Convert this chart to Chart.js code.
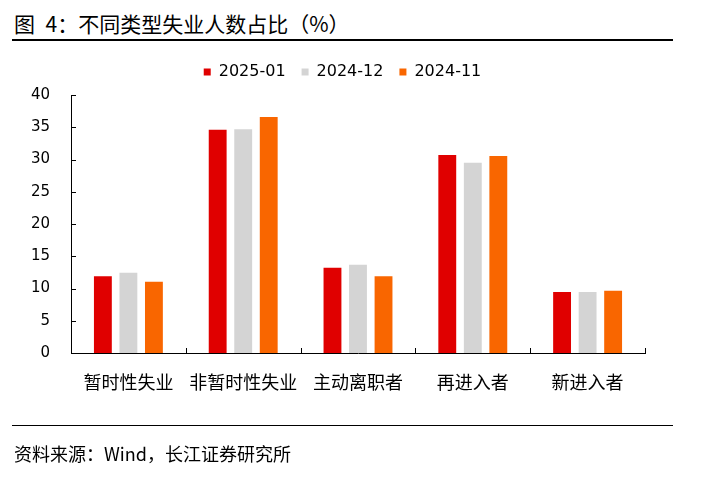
<!DOCTYPE html>
<html>
<head>
<meta charset="utf-8">
<script src="https://cdn.jsdelivr.net/npm/chart.js@4"></script>
<style>
  body { margin: 0; background: #fff; }
  #wrap { position: relative; width: 701px; height: 481px; overflow: hidden; }
  #title { position: absolute; left: 14px; top: 13px; font: 21px/1 "Noto Sans CJK SC", sans-serif; color: #000; white-space: nowrap; }
  #topline { position: absolute; left: 12px; top: 39px; width: 661px; height: 2px; background: #000; }
  #botline { position: absolute; left: 12px; top: 425px; width: 661px; height: 1px; background: #000; }
  #source { position: absolute; left: 14px; top: 444px; font: 18px/1 "Noto Sans CJK SC", sans-serif; color: #000; }
  #box { position: absolute; left: 0; top: 0; width: 701px; height: 481px; }
</style>
</head>
<body>
<div id="wrap">
  <div id="title">图&ensp;4：不同类型失业人数占比（%）</div>
  <div id="topline"></div>
  <div id="box"><canvas id="barChart"></canvas></div>
  <div id="botline"></div>
  <div id="source">资料来源：Wind，长江证券研究所</div>
</div>
<script>
const categories = ["暂时性失业", "非暂时性失业", "主动离职者", "再进入者", "新进入者"];
const jan2025 = [11.9, 34.6, 13.2, 30.7, 9.45];
const dec2024 = [12.45, 34.7, 13.7, 29.5, 9.45];
const nov2024 = [11.05, 36.6, 11.9, 30.55, 9.65];
const yTicks = [0, 5, 10, 15, 20, 25, 30, 35, 40];

// short tick marks pointing into the plot
const innerTicks = {
  id: "innerTicks",
  afterDatasetsDraw(chart) {
    const c = chart.ctx;
    const x = chart.scales.x;
    const y = chart.scales.y;
    c.save();
    c.strokeStyle = "#000";
    c.lineWidth = 1;
    c.beginPath();
    yTicks.forEach(v => {
      const py = Math.round(y.getPixelForValue(v)) + 0.5;
      c.moveTo(x.left, py);
      c.lineTo(x.left + 5, py);
    });
    const step = x.getPixelForTick(1) - x.getPixelForTick(0);
    for (let i = 1; i <= categories.length; i++) {
      const px = Math.round(x.getPixelForTick(0) - step / 2 + i * step) + 0.5;
      c.moveTo(px, y.bottom);
      c.lineTo(px, y.bottom - 5);
    }
    c.stroke();
    c.restore();
  }
};

const ctx = document.getElementById("barChart").getContext("2d");
const barChart = new Chart(ctx, {
  type: "bar",
  data: {
    labels: categories,
    datasets: [
      { label: "2025-01", data: jan2025, backgroundColor: "#E00000" },
      { label: "2024-12", data: dec2024, backgroundColor: "#D4D4D4" },
      { label: "2024-11", data: nov2024, backgroundColor: "#F96600" }
    ]
  },
  options: {
    responsive: true,
    maintainAspectRatio: false,
    animation: false,
    categoryPercentage: 0.667,
    barPercentage: 0.7,
    layout: { padding: { top: 48, right: 16, bottom: 78, left: 0 } },
    plugins: {
      legend: {
        labels: {
          font: { family: "DejaVu Sans", size: 16 },
          color: "#000",
          boxWidth: 7,
          boxHeight: 7,
          padding: 16
        }
      },
      // blank spacer between legend and plot
      title: {
        display: true,
        text: " ",
        weight: 500,
        font: { size: 5, lineHeight: 1 },
        padding: 0
      },
      tooltip: { enabled: false }
    },
    scales: {
      x: {
        grid: { display: false, drawTicks: false },
        border: { color: "#000", width: 1 },
        ticks: {
          padding: 18,
          color: "#000",
          font: { family: "Noto Sans CJK SC", size: 18 }
        },
        afterFit(scale) { scale.height = 50; }
      },
      y: {
        min: 0,
        max: 40,
        grid: { display: false, drawTicks: false },
        border: { color: "#000", width: 1 },
        afterBuildTicks(scale) { scale.ticks = yTicks.map(v => ({ value: v })); },
        ticks: {
          padding: 21,
          color: "#000",
          font: { family: "DejaVu Sans", size: 15 }
        },
        afterFit(scale) { scale.width = 71; }
      },
      yRight: {
        position: "right",
        grid: { display: false, drawTicks: false },
        border: { display: false },
        ticks: { display: false },
        afterFit(scale) { scale.width = 40; }
      }
    }
  },
  plugins: [innerTicks]
});
</script>
</body>
</html>
